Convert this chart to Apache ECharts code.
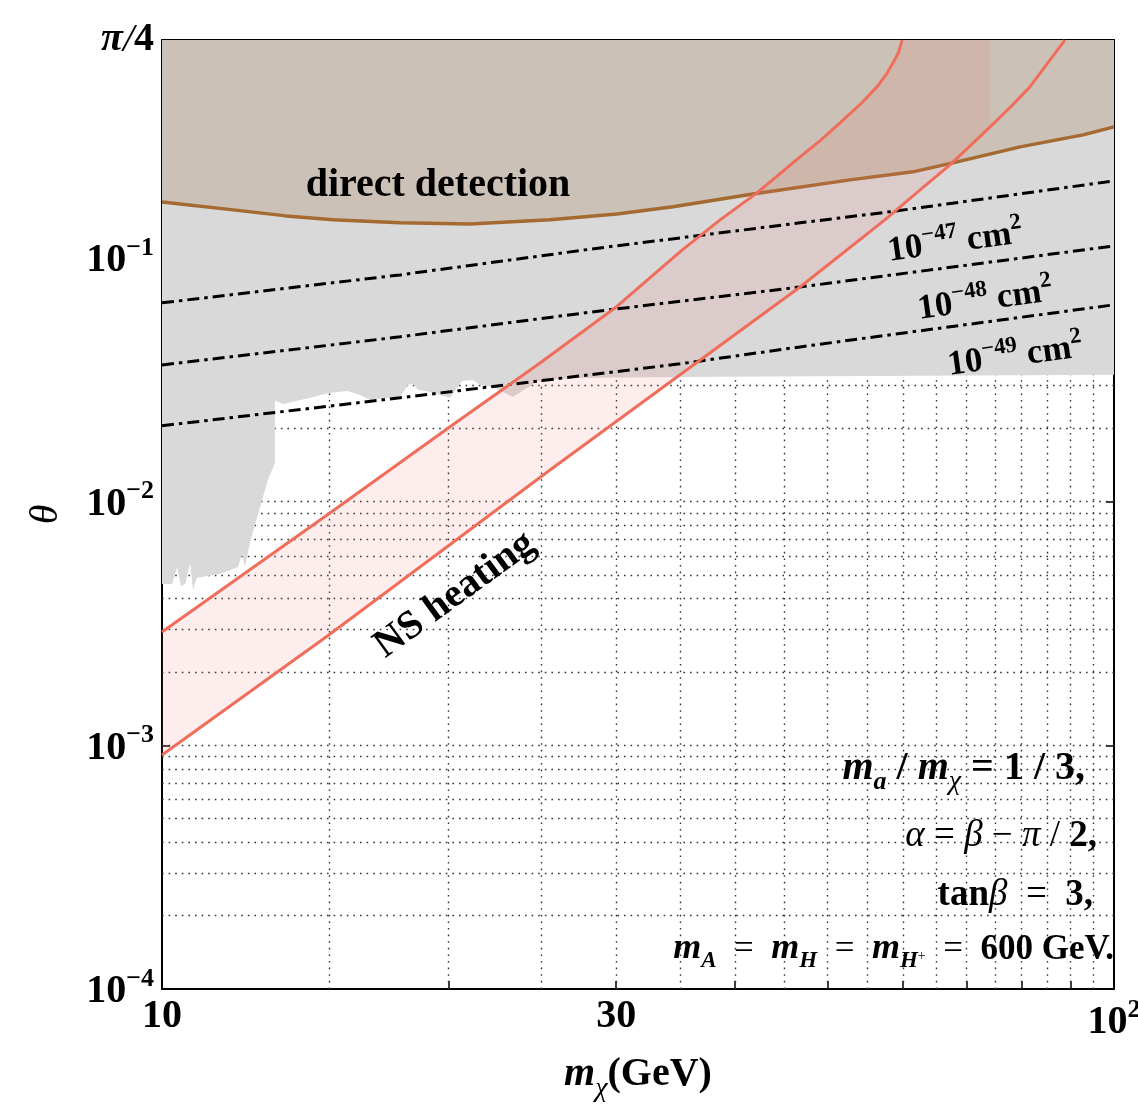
<!DOCTYPE html>
<html><head><meta charset="utf-8">
<script src="https://cdn.jsdelivr.net/npm/echarts@6/dist/echarts.min.js"></script>
<style>html,body{margin:0;padding:0;background:#fff}#c{width:1138px;height:1105px}</style>
</head><body><div id="c"></div>
<script>
// ---------- data (x: m_chi in GeV, y: theta) ----------
const grayBoundary = [
  [10.0, 4.6e-3], [10.25, 4.6e-3], [10.37, 5.4e-3], [10.47, 4.5e-3], [10.58, 4.6e-3],
  [10.70, 5.6e-3], [10.78, 4.35e-3], [10.88, 4.87e-3], [11.5, 5.05e-3], [12.02, 5.4e-3],
  [12.14, 6.1e-3], [12.22, 5.4e-3], [12.37, 6.8e-3], [12.92, 1.23e-2], [13.14, 1.44e-2],
  [13.14, 2.6e-2], [13.40, 2.52e-2], [14.31, 2.67e-2], [15.01, 2.80e-2], [15.65, 2.85e-2],
  [16.14, 2.74e-2], [16.54, 2.62e-2], [17.78, 2.69e-2], [18.13, 3.01e-2], [18.35, 3.05e-2],
  [18.57, 2.88e-2], [19.12, 2.82e-2], [20.07, 2.67e-2], [20.66, 3.13e-2], [21.22, 3.16e-2],
  [21.58, 3.01e-2], [22.27, 2.96e-2], [23.37, 2.69e-2], [24.17, 2.93e-2], [24.95, 3.16e-2],
  [27.29, 3.22e-2], [35.0, 3.25e-2], [100, 3.32e-2]
];
const directDetection = [
  [10, 0.170], [11.88, 0.1577], [13.5, 0.1490], [15.12, 0.1435], [17.78, 0.1395], [21.07, 0.1381],
  [25.56, 0.1435], [30.06, 0.1518], [34.42, 0.1623], [41.76, 0.1834], [52.81, 0.2094],
  [61.5, 0.2259], [68.4, 0.2482], [79.7, 0.2861], [92.8, 0.3204], [100, 0.3456]
];
const xs47 = [[10, 0.0655], [17.78, 0.0853], [28.85, 0.1101], [46.8, 0.1395], [59.2, 0.1563], [100, 0.2074]];
const xs48 = [[10, 0.0364], [17.78, 0.0475], [28.85, 0.0607], [46.8, 0.0761], [100, 0.1122]];
const xs49 = [[10, 0.0205], [17.78, 0.0267], [35.0, 0.0368], [46.8, 0.0432], [100, 0.0643]];
const nsUpper = [
  [10, 2.92e-3], [15.01, 8.99e-3], [20.07, 2.03e-2], [24.95, 3.71e-2], [30.0, 6.3e-2], [35.2, 0.108],
  [38.57, 0.1435], [42.17, 0.1852], [46.8, 0.2603], [49.2, 0.305], [51.54, 0.3589], [54.2, 0.43],
  [56.37, 0.5044], [57.7, 0.57], [58.6, 0.633], [59.4, 0.70], [59.9, 0.785]
];
const nsLower = [
  [10, 9.13e-4], [14.97, 2.84e-3], [25.56, 1.35e-2], [34.75, 3.25e-2], [46.8, 7.61e-2],
  [57.45, 0.1435], [62.3, 0.188], [67.25, 0.2413], [70.7, 0.290], [74.1, 0.3456], [78.0, 0.420],
  [81.6, 0.5044], [85.66, 0.651], [88.8, 0.785]
];
const nsFillEnd = 74.1;           // the shaded band stops at this mass
const THETA_MAX = Math.PI / 4;
const xGrid = [15,20,25,30,35,40,45,50,55,60,65,70,75,80,85,90,95];
const yGrid = [2e-4,3e-4,4e-4,5e-4,6e-4,7e-4,8e-4,9e-4,1e-3,2e-3,3e-3,4e-3,5e-3,6e-3,7e-3,8e-3,9e-3,
               1e-2,2e-2,3e-2,4e-2,5e-2,6e-2,7e-2,8e-2,9e-2,1e-1,2e-1,3e-1,4e-1,5e-1,6e-1,7e-1];
const xTickVals = [20,30,40,50,60,70,80,90];
const xLabelVals = [10, 30, 100];
const xLabelTexts = ['{b|10}', '{b|30}', '{b|10}{sup|2}'];
const yTickVals = [1e-3, 1e-2, 1e-1];
const yLabelVals = [1e-4, 1e-3, 1e-2, 1e-1, THETA_MAX];
const yLabelTexts = ['{b|10}{sup|−4}', '{b|10}{sup|−3}', '{b|10}{sup|−2}', '{b|10}{sup|−1}', '{pi|π}{sl|/}{b|4}'];

// ---------- build ----------
const F = "'Liberation Serif', 'Times New Roman', serif";
const bandPolygon = nsUpper
  .concat([[nsFillEnd, THETA_MAX]])
  .concat(nsLower.filter(p => p[0] <= nsFillEnd).reverse());

function pick(vals, texts, v) {
  for (let i = 0; i < vals.length; i++) if (Math.abs(vals[i] - v) / vals[i] < 1e-6) return texts[i];
  return '';
}
function tok(size, opt) {
  return Object.assign({fontFamily: F, fontSize: size, fill: '#000', color: '#000',
                        verticalAlign: 'bottom', fontWeight: 'bold'}, opt || {});
}
const tickRich = {
  b: tok(40),
  sup: tok(26, {padding: [0, 0, 20, 0]}),
  pi: tok(40, {fontStyle: 'italic', fontWeight: 'bold'}),
  sl: tok(40, {fontStyle: 'italic', fontWeight: 'normal'})
};

const chart = echarts.init(document.getElementById('c'), null, {renderer: 'canvas'});
const axisLine = {show: true, onZero: false, lineStyle: {color: '#000', width: 2}};
const tickStyle = {color: '#000', width: 1.5};
const dashDot = {color: '#000', width: 3, type: [12, 5, 3.5, 5]};
const red = '#f06d5c';

const option = {
  animation: false,
  backgroundColor: '#fff',
  grid: {left: 162, top: 40, width: 952, height: 949, containLabel: false, outerBoundsMode: 'none'},
  xAxis: [
    {type: 'log', logBase: 10, min: 10, max: 100, position: 'bottom',
     axisLine, splitLine: {show: false}, minorTick: {show: false},
     axisTick: {show: true, inside: true, length: 8, customValues: xTickVals, lineStyle: tickStyle},
     axisLabel: {show: true, margin: 8, color: '#000', customValues: xLabelVals,
       formatter: v => pick(xLabelVals, xLabelTexts, v), rich: tickRich},
     name: '{mi|m}{sub|χ}{b|(GeV)}', nameLocation: 'middle', nameGap: 66,
     nameTextStyle: {color: '#000', rich: {
       mi: tok(40, {fontStyle: 'italic', padding: [0, 0, 8, 0]}),
       sub: tok(28, {fontStyle: 'italic', fontWeight: 'normal'}),
       b: tok(40, {padding: [0, 0, 8, 0]})
     }}
    },
    {type: 'log', logBase: 10, min: 10, max: 100, position: 'top',
     axisLine, splitLine: {show: false},
     axisTick: {show: true, inside: true, length: 8, customValues: xTickVals, lineStyle: tickStyle},
     axisLabel: {show: false}}
  ],
  yAxis: [
    {type: 'log', logBase: 10, min: 1e-4, max: THETA_MAX, position: 'left',
     axisLine, splitLine: {show: false}, minorTick: {show: false},
     axisTick: {show: true, inside: true, length: 8, customValues: yTickVals, lineStyle: tickStyle},
     axisLabel: {show: true, margin: 8, color: '#000', customValues: yLabelVals,
       formatter: v => pick(yLabelVals, yLabelTexts, v), rich: tickRich},
     name: 'θ', nameLocation: 'middle', nameRotate: 90, nameGap: 96,
     nameTextStyle: {fontFamily: F, fontStyle: 'italic', fontSize: 40, color: '#000'}
    },
    {type: 'log', logBase: 10, min: 1e-4, max: THETA_MAX, position: 'right',
     axisLine, splitLine: {show: false},
     axisTick: {show: true, inside: true, length: 8, customValues: yTickVals, lineStyle: tickStyle},
     axisLabel: {show: false}}
  ],
  series: [
    {name: 'excluded', type: 'line', z: 2, data: grayBoundary, symbol: 'none', silent: true,
     lineStyle: {width: 0}, areaStyle: {color: '#d9d9d9', opacity: 1, origin: 'end'},
     markLine: {silent: true, z: 1, symbol: ['none', 'none'], animation: false, precision: 12,
       label: {show: false}, emphasis: {disabled: true},
       lineStyle: {type: [1.6, 5], color: '#333', width: 1.4},
       data: xGrid.map(v => ({xAxis: v})).concat(yGrid.map(v => ({yAxis: v})))}
    },
    {name: 'direct detection', type: 'line', z: 3, data: directDetection, symbol: 'none', silent: true,
     lineStyle: {color: '#a56a31', width: 3.5}, areaStyle: {color: '#cbc1b6', opacity: 1, origin: 'end'}},
    {name: 'NS band', type: 'custom', z: 4, silent: true, clip: true, data: bandPolygon,
     renderItem: function (params, api) {
       if (params.dataIndex !== 0) return null;
       return {type: 'polygon', shape: {points: bandPolygon.map(p => api.coord(p))},
               style: {fill: 'rgba(240,110,95,0.12)'}};
     }},
    {name: '1e-47', type: 'line', z: 6, data: xs47, symbol: 'none', silent: true, lineStyle: dashDot},
    {name: '1e-48', type: 'line', z: 6, data: xs48, symbol: 'none', silent: true, lineStyle: dashDot},
    {name: '1e-49', type: 'line', z: 6, data: xs49, symbol: 'none', silent: true, lineStyle: dashDot},
    {name: 'NS upper', type: 'line', z: 7, data: nsUpper, symbol: 'none', silent: true,
     lineStyle: {color: red, width: 3, join: 'round'}},
    {name: 'NS lower', type: 'line', z: 7, data: nsLower, symbol: 'none', silent: true,
     lineStyle: {color: red, width: 3, join: 'round'}}
  ],
  graphic: [
    {type: 'text', x: 438, y: 186, z: 100, silent: true,
     style: {text: 'direct detection', font: "bold 40px 'Liberation Serif', serif", fill: '#000', align: 'center', verticalAlign: 'middle'}},
    {type: 'text', x: 455, y: 595, rotation: 36 * Math.PI / 180, z: 100, silent: true,
     style: {text: 'NS heating', font: "bold 40px 'Liberation Serif', serif", fill: '#000', align: 'center', verticalAlign: 'middle'}},
    {type: 'text', x: 955, y: 240, rotation: 8 * Math.PI / 180, z: 100, silent: true,
     style: {text: '{b|10}{sup|−47}{b| cm}{sup|2}', align: 'center', verticalAlign: 'middle',
       rich: {b: tok(35), sup: tok(23, {padding: [0, 0, 17, 0]})}}},
    {type: 'text', x: 985, y: 298, rotation: 8 * Math.PI / 180, z: 100, silent: true,
     style: {text: '{b|10}{sup|−48}{b| cm}{sup|2}', align: 'center', verticalAlign: 'middle',
       rich: {b: tok(35), sup: tok(23, {padding: [0, 0, 17, 0]})}}},
    {type: 'text', x: 1015, y: 354, rotation: 8 * Math.PI / 180, z: 100, silent: true,
     style: {text: '{b|10}{sup|−49}{b| cm}{sup|2}', align: 'center', verticalAlign: 'middle',
       rich: {b: tok(35), sup: tok(23, {padding: [0, 0, 17, 0]})}}},
    {type: 'text', x: 1085, y: 772, z: 100, silent: true,
     style: {text: '{mi|m}{sb|a}{b| / }{mi|m}{sc|χ}{b| = 1 / 3,}', align: 'right', verticalAlign: 'middle',
       rich: {mi: tok(40, {fontStyle: 'italic', padding: [0, 0, 7, 0]}),
              b: tok(40, {padding: [0, 0, 7, 0]}),
              sb: tok(26, {fontStyle: 'italic'}),
              sc: tok(28, {fontStyle: 'italic', fontWeight: 'normal'})}}},
    {type: 'text', x: 1097, y: 836, z: 100, silent: true,
     style: {text: '{i|α}{r| = }{i|β}{r| − }{i|π}{r| / }{b|2,}', align: 'right', verticalAlign: 'middle',
       rich: {i: tok(37, {fontStyle: 'italic', fontWeight: 'normal'}),
              r: tok(37, {fontWeight: 'normal'}),
              b: tok(37)}}},
    {type: 'text', x: 1093, y: 895, z: 100, silent: true,
     style: {text: '{b|tan}{i|β}{r|  =  }{b|3,}', align: 'right', verticalAlign: 'middle',
       rich: {i: tok(37, {fontStyle: 'italic', fontWeight: 'normal'}),
              r: tok(37, {fontWeight: 'normal'}),
              b: tok(37)}}},
    {type: 'text', x: 1114, y: 952, z: 100, silent: true,
     style: {text: '{mi|m}{s|A}{r|  =  }{mi|m}{s|H}{r|  =  }{mi|m}{s|H}{p|+}{r|  =  }{b|600 GeV.}', align: 'right', verticalAlign: 'middle',
       rich: {mi: tok(36, {fontStyle: 'italic', padding: [0, 0, 6, 0]}),
              b: tok(35, {padding: [0, 0, 6, 0]}),
              r: tok(35, {fontWeight: 'normal', padding: [0, 0, 6, 0]}),
              s: tok(23, {fontStyle: 'italic'}),
              p: tok(14, {fontWeight: 'normal', padding: [0, 0, 10, 0]})}}}
  ]
};
chart.setOption(option);
</script>
</body></html>
